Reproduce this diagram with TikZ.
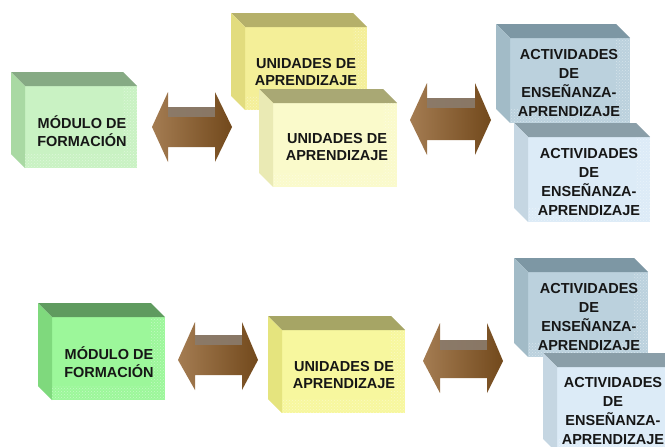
\documentclass[tikz,border=0pt]{standalone}
\usepackage{fontspec}
\setmainfont{Liberation Sans}
\usetikzlibrary{patterns}
\definecolor{gAf}{HTML}{C9F2C3}\definecolor{gAt}{HTML}{86AA84}\definecolor{gAs}{HTML}{A9D9A3}
\definecolor{gBf}{HTML}{9CF79A}\definecolor{gBt}{HTML}{5F9B5F}\definecolor{gBs}{HTML}{7FD97D}
\definecolor{yAf}{HTML}{F4EF98}\definecolor{yAt}{HTML}{B5B06A}\definecolor{yAs}{HTML}{E2DC7E}
\definecolor{yBf}{HTML}{FAFACB}\definecolor{yBt}{HTML}{A9A874}\definecolor{yBs}{HTML}{EAEAB4}
\definecolor{yCf}{HTML}{F7F79E}\definecolor{yCt}{HTML}{A6A565}\definecolor{yCs}{HTML}{E5E47E}
\definecolor{bAf}{HTML}{BBD1DD}\definecolor{bAt}{HTML}{7D97A4}\definecolor{bAs}{HTML}{A2BBC7}
\definecolor{bBf}{HTML}{DCEBF7}\definecolor{bBt}{HTML}{8A9EA8}\definecolor{bBs}{HTML}{C5D6E2}
\definecolor{arrL}{HTML}{A47C52}\definecolor{arrM}{HTML}{D6B590}\definecolor{arrR}{HTML}{72491C}
\definecolor{arrTop}{HTML}{8A7B6C}
\definecolor{txt}{HTML}{161616}
\tikzset{
  cube/.style={inner sep=0pt, outer sep=0pt, align=center, text=txt, font=\bfseries\fontsize{14.5}{17.5}\selectfont},
  cubefour/.style={cube, font=\bfseries\fontsize{14.5}{19}\selectfont},
}
\newcommand{\cubebox}[9]{%
  \node[#9, minimum width=#4pt, minimum height=#5pt, fill=#6!100] (#1) at (#2,#3) {};
  \fill[#7] (#1.north west) -- ++(-14,-14) -- ([shift={(-14,-14)}]#1.north east) -- (#1.north east) -- cycle;
  \fill[#8] (#1.north west) -- ++(-14,-14) -- ([shift={(-14,-14)}]#1.south west) -- (#1.south west) -- cycle;
  \fill[pattern=crosshatch dots, pattern color=white, opacity=0.4] ([shift={(0,-14)}]#1.south west) rectangle (#1.south east);
  \fill[pattern=crosshatch dots, pattern color=white, opacity=0.4] ([shift={(-14,0)}]#1.north east) rectangle ([shift={(0,-14)}]#1.south east);
}
\newcommand{\dblarrow}[9]{%
  \shade[left color=arrL, middle color=arrM, right color=arrR]
    (#1,#5) -- (#2,#6) -- (#2,#8) -- (#3,#8) -- (#3,#6) -- (#4,#5)
    -- (#3,#7) -- (#3,#9) -- (#2,#9) -- (#2,#7) -- cycle;
  \fill[arrTop, opacity=0.9] (#2,#8) rectangle (#3,{#8+10});
}
\begin{document}
\begin{tikzpicture}[x=1pt,y=-1pt]
\useasboundingbox (0,0) rectangle (665,447);
\clip (0,0) rectangle (665,447);
% top row
\cubebox{m1}{81}{127}{112}{82}{gAf}{gAt}{gAs}{cube}
\node[cube] (t1) at (82,131) {MÓDULO DE\\FORMACIÓN};
\cubebox{u1}{306}{68.5}{122}{83}{yAf}{yAt}{yAs}{cube}
\node[cube] (t2) at (306,72) {UNIDADES DE\\APRENDIZAJE};
\cubebox{u2}{335}{145}{124}{84}{yBf}{yBt}{yBs}{cube}
\node[cube] (t3) at (337,147) {UNIDADES DE\\APRENDIZAJE};
\cubebox{a1}{570}{80.5}{120}{85}{bAf}{bAt}{bAs}{cubefour}
\node[cubefour] (t4) at (569,83) {ACTIVIDADES\\DE\\ENSEÑANZA-\\APRENDIZAJE};
\cubebox{a2}{589}{179.5}{122}{85}{bBf}{bBt}{bBs}{cubefour}
\node[cubefour] (t5) at (589,182) {ACTIVIDADES\\DE\\ENSEÑANZA-\\APRENDIZAJE};
% bottom row
\cubebox{m2}{108.5}{358.5}{113}{83}{gBf}{gBt}{gBs}{cube}
\node[cube] (t6) at (109,362) {MÓDULO DE\\FORMACIÓN};
\cubebox{u3}{343.5}{371.5}{123}{83}{yCf}{yCt}{yCs}{cube}
\node[cube] (t7) at (344,375) {UNIDADES DE\\APRENDIZAJE};
\cubebox{a3}{588}{314.5}{120}{85}{bAf}{bAt}{bAs}{cubefour}
\node[cubefour] (t8) at (589,317) {ACTIVIDADES\\DE\\ENSEÑANZA-\\APRENDIZAJE};
\cubebox{a4}{618}{410}{122}{86}{bBf}{bBt}{bBs}{cubefour}
\node[cubefour] (t9) at (613,411) {ACTIVIDADES\\DE\\ENSEÑANZA-\\APRENDIZAJE};
% arrows
\dblarrow{152}{168}{215}{232}{127}{92}{162}{107}{147}
\dblarrow{410}{427}{475}{491}{120}{83}{155}{98}{140}
\dblarrow{178}{195}{242}{258}{360}{322}{390}{335}{375}
\dblarrow{423}{440}{487}{503}{361}{323}{393}{340}{378}
\end{tikzpicture}
\end{document}
